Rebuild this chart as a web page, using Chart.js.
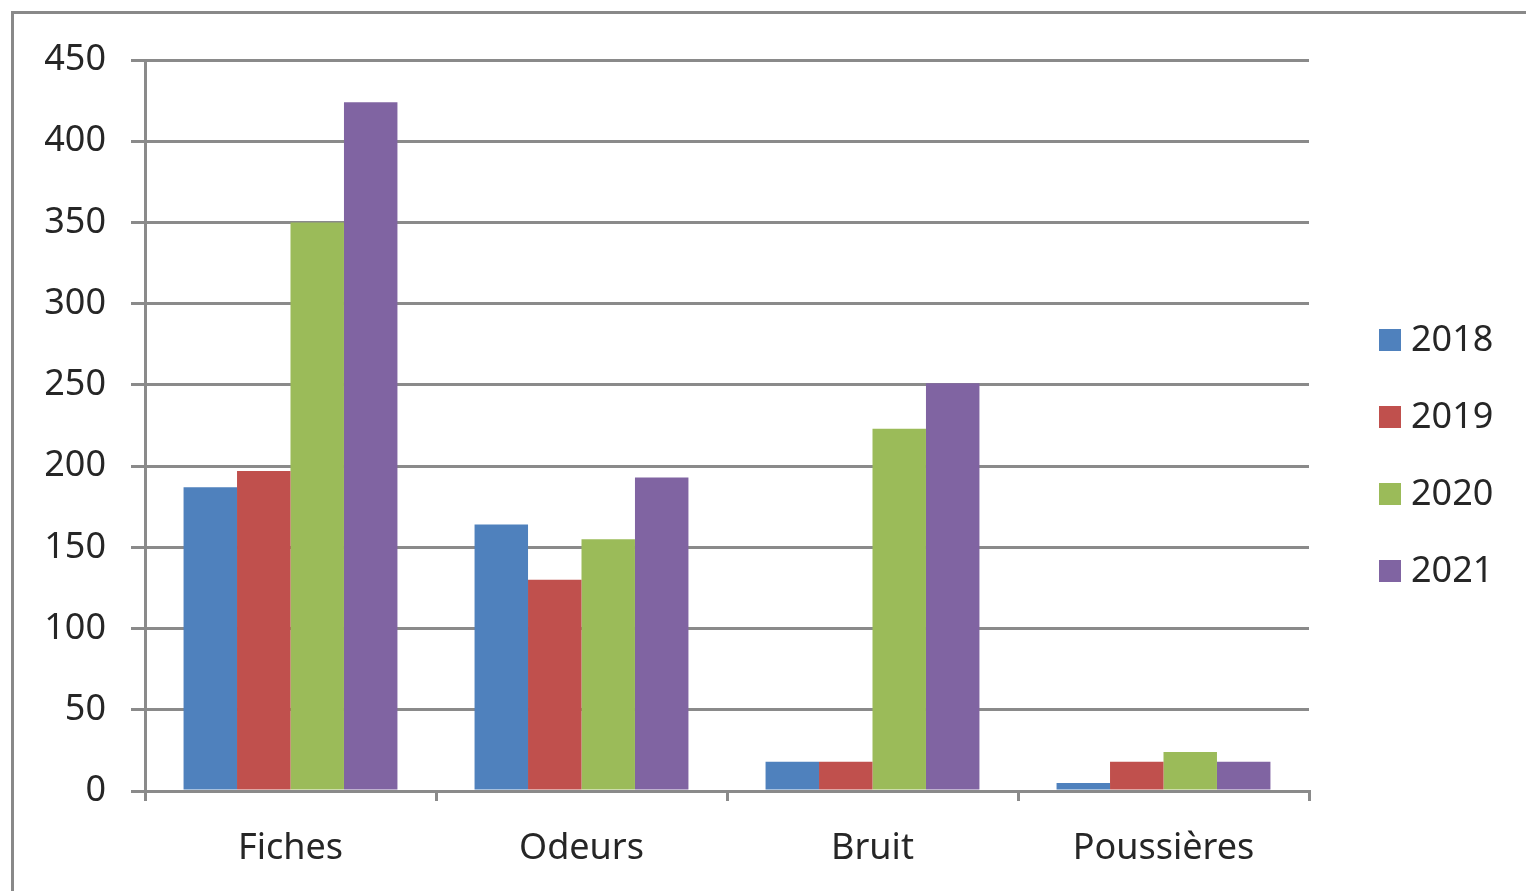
<!DOCTYPE html>
<html>
<head>
<meta charset="utf-8">
<script src="https://cdn.jsdelivr.net/npm/chart.js@4"></script>
<style>
    html, body { margin: 0; padding: 0; background: #fff; overflow: hidden; }
    .frame {
        position: absolute; left: 11px; top: 11px;
        width: 1600px; height: 1000px;
        border: 3px solid #898989;
        box-sizing: border-box;
    }
    .wrap { position: absolute; left: 0; top: 0; width: 1526px; height: 891px; }
</style>
</head>
<body>
<div class="frame"></div>
<div class="wrap"><canvas id="chart"></canvas></div>
<script>
// Data
const categories = ['Fiches', 'Odeurs', 'Bruit', 'Poussières'];
const years = ['2018', '2019', '2020', '2021'];
const values2018 = [187, 164, 18, 5];
const values2019 = [197, 130, 18, 18];
const values2020 = [350, 155, 223, 24];
const values2021 = [424, 193, 251, 18];
const yTicks = [0, 50, 100, 150, 200, 250, 300, 350, 400, 450];

const colors = ['#4F81BD', '#C0504D', '#9BBB59', '#8064A2'];
const fontFamily = '"Noto Sans", "Open Sans", sans-serif';
const fontSize = 36;
const textColor = '#262626';
const gridColor = '#8a8a8a';

// Simple legend drawn on the right, like the original
const sideLegend = {
    id: 'sideLegend',
    afterDraw(chart) {
        const ctx = chart.ctx;
        ctx.save();
        ctx.font = fontSize + 'px ' + fontFamily;
        ctx.textBaseline = 'middle';
        ctx.textAlign = 'left';
        chart.data.datasets.forEach((ds, i) => {
            const cy = 340 + i * 77;
            ctx.fillStyle = ds.backgroundColor;
            ctx.fillRect(1379, cy - 11, 22, 22);
            ctx.fillStyle = textColor;
            ctx.fillText(ds.label, 1411, cy + 1);
        });
        ctx.restore();
    }
};

const seriesValues = [values2018, values2019, values2020, values2021];

new Chart(document.getElementById('chart'), {
    type: 'bar',
    data: {
        labels: categories,
        datasets: years.map((y, i) => ({
            label: y,
            data: seriesValues[i],
            backgroundColor: colors[i],
            borderWidth: 0
        }))
    },
    options: {
        responsive: true,
        maintainAspectRatio: false,
        animation: false,
        categoryPercentage: 0.735,
        barPercentage: 1.0,
        layout: { padding: { top: 60, right: 217, left: 0, bottom: 0 } },
        plugins: {
            legend: { display: false },
            tooltip: { enabled: false }
        },
        scales: {
            x: {
                grid: {
                    offset: true,
                    drawOnChartArea: false,
                    drawTicks: true,
                    tickLength: 10,
                    color: gridColor,
                    lineWidth: 3
                },
                border: { color: gridColor, width: 3 },
                ticks: {
                    color: textColor,
                    font: { family: fontFamily, size: fontSize },
                    padding: 26
                },
                afterFit(scale) { scale.height = 100; }
            },
            y: {
                min: 0,
                max: 450,
                afterBuildTicks(scale) {
                    scale.ticks = yTicks.map(v => ({ value: v }));
                },
                grid: {
                    color: gridColor,
                    lineWidth: 3,
                    drawTicks: true,
                    tickLength: 14
                },
                border: { color: gridColor, width: 3 },
                ticks: {
                    color: textColor,
                    font: { family: fontFamily, size: fontSize },
                    padding: 25
                },
                afterFit(scale) { scale.width = 145; }
            }
        }
    },
    plugins: [sideLegend]
});
</script>
</body>
</html>
